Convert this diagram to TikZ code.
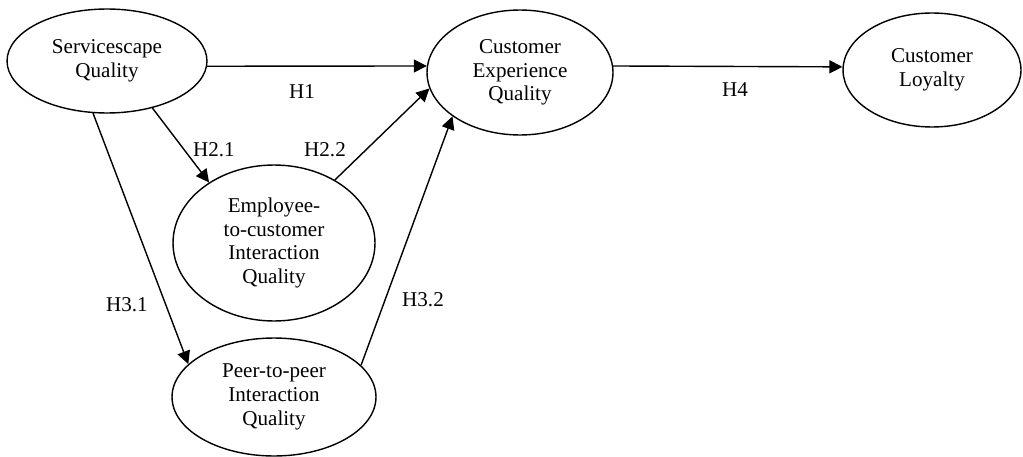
\documentclass[tikz,border=0pt]{standalone}
\usepackage{fontspec}
\setmainfont{Liberation Serif}
\usetikzlibrary{shapes.geometric,arrows.meta}

\begin{document}
\begin{tikzpicture}[x=0.02cm, y=-0.02cm, font=\fontsize{12}{13.5}\selectfont,
        construct/.style={ellipse, draw, line width=0.8pt, align=center, inner sep=0pt},
        hyp/.style={line width=0.8pt, -{Triangle[length=2.6mm, width=2.6mm]}}]
        \useasboundingbox (0, 0) rectangle (1023, 456);
        \node[construct, minimum width=4cm, minimum height=2.08cm] (sq) at (107, 61) {Servicescape\\Quality};
        \node[construct, minimum width=3.72cm, minimum height=2.5cm] (ceq) at (520, 72.5) {Customer\\Experience\\Quality};
        \node[construct, minimum width=3.56cm, minimum height=2.28cm] (cl) at (932, 70) {Customer\\Loyalty};
        \node[construct, minimum width=4.04cm, minimum height=3.12cm] (emp) at (274, 243) {Employee-\\to-customer\\Interaction\\Quality};
        \node[construct, minimum width=4.08cm, minimum height=2.36cm] (ptp) at (274, 397) {Peer-to-peer\\Interaction\\Quality};
        \draw[hyp] (sq.-3) -- (ceq.176);
        \draw[hyp] (ceq.4) -- (cl.178);
        \draw[hyp] (sq.-46) -- (emp.137);
        \draw[hyp] (emp.46) -- (ceq.-170);
        \draw[hyp] (sq.-105) -- (ptp.159);
        \draw[hyp] (ptp.20) -- (ceq.-147);
        \node (h1) at (302, 92) {H1};
        \node (h4) at (735, 90) {H4};
        \node (h21) at (214, 150) {H2.1};
        \node (h22) at (325, 150) {H2.2};
        \node (h31) at (127, 305) {H3.1};
        \node (h32) at (423, 300) {H3.2};
\end{tikzpicture}
\end{document}
